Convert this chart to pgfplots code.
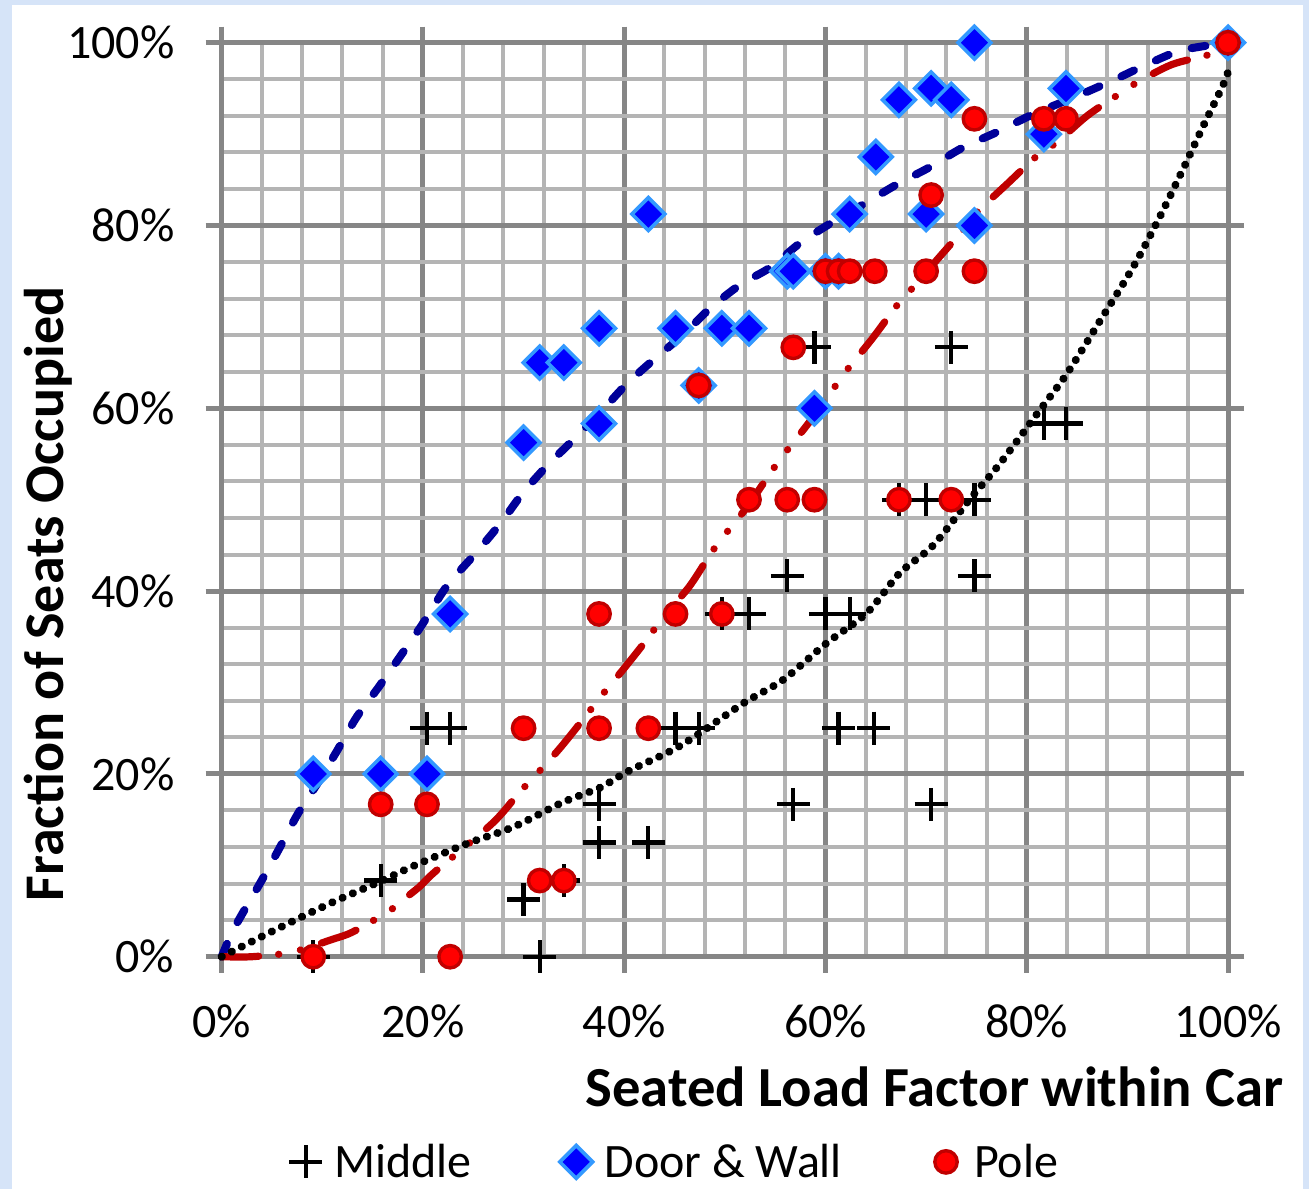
\documentclass[border=0pt]{standalone}
\usepackage{fontspec}
\setmainfont{Carlito}
\usepackage{pgfplots}
\pgfplotsset{compat=1.18}
\definecolor{bgblue}{RGB}{214,228,248}
\definecolor{minorgray}{RGB}{180,180,180}
\definecolor{majorgray}{RGB}{134,134,134}
\definecolor{navyline}{RGB}{0,0,153}
\definecolor{darkred}{RGB}{192,0,0}
\definecolor{lightblue}{RGB}{51,153,255}
\begin{document}
\begin{tikzpicture}[x=1pt,y=1pt]
\useasboundingbox (0,0) rectangle (654.5,594.5);
\fill[bgblue] (0,0) rectangle (654.5,594.5);
\fill[white] (6,0) rectangle (651.5,592);
\begin{axis}[
  at={(110.85pt,116.15pt)}, anchor=south west,
  scale only axis, width=503.15pt, height=457pt,
  xmin=0, xmax=100, ymin=0, ymax=100,
  clip=false,
  xtick={0,20,40,60,80,100}, ytick={0,20,40,60,80,100},
  xticklabels={0\%,20\%,40\%,60\%,80\%,100\%},
  yticklabels={0\%,20\%,40\%,60\%,80\%,100\%},
  minor tick num=4,
  grid=both,
  minor grid style={draw=minorgray, line width=2pt},
  major grid style={draw=majorgray, line width=2.5pt},
  axis line style={draw=majorgray, line width=2.5pt},
  tick align=outside,
  major tick length=8pt, minor tick length=0pt,
  tick style={draw=majorgray, line width=2.5pt},
  ticklabel style={font=\fontsize{24}{28}\selectfont, inner sep=0pt},
  yticklabel style={xshift=-15.5pt},
  xticklabel style={yshift=-16pt},
  legend style={at={(axis description cs:0.0669,-0.2245)}, anchor=west,
    draw=none, fill=none, inner sep=0pt,
    font=\fontsize{24}{28}\selectfont,
    /tikz/every odd column/.append style={column sep=6pt},
    /tikz/every even column/.append style={column sep=44pt},
    nodes={inner sep=0pt}},
  legend columns=3,
  legend image code/.code={\path[draw=none,fill=none] (-8pt,-8pt) -- (8pt,8pt); \draw[#1] plot coordinates {(0pt,0pt)};},
]
% Middle
\addplot[only marks, mark=+, mark size=8.25pt, mark options={draw=black, line width=2.1pt}] table {
x y
9.1 0
15.8 8.33
20.4 25
22.7 25
30.0 6.25
31.6 0
34.0 8.33
37.5 16.67
37.5 12.5
42.4 12.5
45.1 25
47.4 25
49.7 37.5
52.4 37.5
56.2 41.67
56.8 16.67
58.9 66.67
60.0 37.5
62.4 37.5
61.3 25
64.8 25
70.5 16.67
72.5 66.67
67.3 50
70.0 50
74.8 50
74.8 41.67
81.7 58.33
83.9 58.33
100 100
};
\addlegendentry{Middle}
% Door & Wall
\addplot[only marks, mark=square*, mark size=5.8pt, mark options={rotate=45, fill=blue, draw=lightblue, line width=1.8pt}] table {
x y
9.1 20
15.8 20
20.4 20
22.7 37.5
30.0 56.25
31.6 65
34.0 65
37.5 68.75
37.5 58.33
42.4 81.25
45.1 68.75
47.4 62.5
49.7 68.75
52.4 68.75
56.2 75
56.8 75
58.9 60
60.0 75
61.3 75
62.4 81.25
65.0 87.5
67.3 93.75
70.5 95
72.5 93.75
70.0 81.25
74.8 100
74.8 80
81.7 90
83.9 95
100 100
};
\addlegendentry{Door \& Wall}
% Pole
\addplot[only marks, mark=*, mark size=5.6pt, mark options={fill=red, draw=darkred, line width=1.7pt}] table {
x y
9.1 0
15.8 16.67
20.4 16.67
22.7 0
30.0 25
31.6 8.33
34.0 8.33
37.5 37.5
37.5 25
42.4 25
45.1 37.5
47.4 62.5
49.7 37.5
52.4 50
56.2 50
58.9 50
56.8 66.67
60.0 75
61.3 75
62.4 75
64.9 75
67.3 50
72.5 50
70.0 75
70.5 83.33
74.8 91.67
74.8 75
81.7 91.67
83.9 91.67
100 100
};
\addlegendentry{Pole}
% Trend lines
\addplot[forget plot, navyline, line width=4pt, line cap=round, dash pattern=on 7pt off 12pt, smooth] coordinates {
(0,0) (1.0,2.6) (2.1,4.8) (4.0,8.4) (5.8,12) (7.6,15.7) (9.6,19.1) (11.5,22.6) (13.4,26.2) (15.6,29.5) (17.7,32.8) (19.9,36.3) (21.9,39.8) (23,41.4) (25.2,44.1) (27.7,47.4) (29.9,50.7) (32.4,53.8) (34.9,56.5) (37.6,59.5) (40.1,62.5) (42.8,65.2) (45.8,68) (48.5,70.9) (51.5,73.5) (54.5,75.4) (57.5,78.1) (60.6,80.3) (63.9,82.4) (67.1,84.5) (70.4,86.4) (73.6,88.5) (77,90.2) (80.5,92.1) (85.3,94.3) (88.6,95.9) (92.3,97.8) (95.5,99.2) (100,100)
};
\addplot[forget plot, darkred, line width=3.6pt, line cap=round, dash pattern=on 18.5pt off 10pt on 0.1pt off 11pt on 0.1pt off 11pt, smooth] coordinates {
(0,0) (3,0) (7,0.5) (11,1.9) (13,2.7) (16.5,4.9) (18,6.2) (19.7,7.7) (21.2,9.3) (26.9,14.6) (29.6,18) (30.9,19.5) (33.6,22.8) (36.3,26.5) (37.4,28.1) (40.1,31.7) (42.6,35.2) (43.7,37) (46.4,40.4) (48.6,44.1) (49.8,45.9) (52.2,49.2) (54.7,53.2) (55.9,55) (58.4,58.5) (60.7,62) (62,64) (64.7,67.7) (67.2,71.4) (68.6,73.1) (71.2,76.4) (73.9,79.8) (75.1,81.5) (78.1,84.6) (81.1,87.7) (83,89.1) (86,92) (89.2,94.4) (90.9,95.6) (94.4,97.6) (98.4,98.8) (100,100)
};
\addplot[forget plot, black, line width=4pt, line cap=round, dash pattern=on 0.1pt off 5.5pt, smooth] coordinates {
(0,0) (5.8,3.2) (11.1,6.0) (15.7,8.2) (19,9.9) (24.2,12.3) (29,14.2) (33.9,16.9) (37.6,18.5) (40.4,20.3) (45.6,23.1) (51.8,27.7) (55.8,30.3) (60.1,34.3) (64.1,37.6) (67.4,42) (70.7,45) (74.3,50) (77.3,53.9) (81.3,59.8) (84,63.8) (87.3,69.6) (90.6,75.5) (93.2,80.9) (95.5,86.1) (97.5,90.8) (99.4,95.1) (100,96.8)
};
\node[rotate=90, anchor=base, font=\fontsize{28}{32}\selectfont\bfseries] at (axis description cs:-0.1577,0.397) {Fraction of Seats Occupied};
\node[anchor=base east, font=\fontsize{28.3}{32}\selectfont\bfseries] at (axis description cs:1.0616,-0.1644) {Seated Load Factor within Car};
\end{axis}
\end{tikzpicture}
\end{document}
